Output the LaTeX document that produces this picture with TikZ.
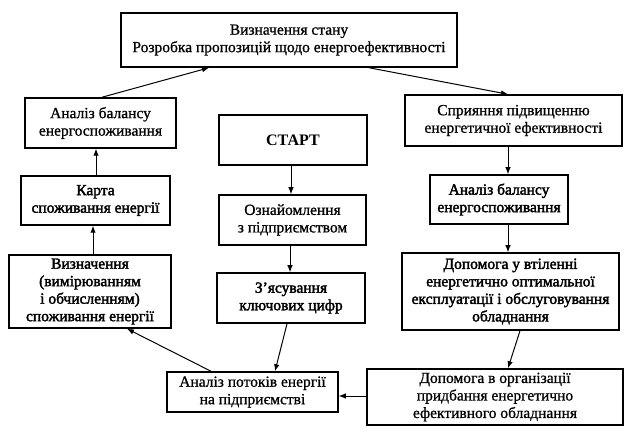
\documentclass[tikz,border=0pt]{standalone}
\usepackage{fontspec}
\setmainfont{Liberation Serif}
\newfontfamily\heavyserif[FakeBold=2.2]{Liberation Serif}
\newfontfamily\midserif[FakeBold=0.9]{Liberation Serif}
\usetikzlibrary{arrows.meta}
\begin{document}
\begin{tikzpicture}[x=1pt,y=-1pt,
  box/.style={draw,line width=1.5pt,align=center,inner sep=1pt,font=\midserif\fontsize{15.5}{17.5}\selectfont},
  bbox/.style={box,font=\heavyserif\fontsize{15.5}{17.5}\selectfont},
  arr/.style={line width=1pt,-{Latex[length=7pt,width=5.5pt]}}]
\useasboundingbox (0,0) rectangle (639,435);
\node[box,minimum width=336pt,minimum height=54pt] (top) at (289,40) {Визначення стану\\Розробка пропозицій щодо енергоефективності};
\node[box,minimum width=151pt,minimum height=50pt] (an1) at (100.5,123) {Аналіз балансу\\енергоспоживання};
\node[box,line width=2.8pt,minimum width=148pt,minimum height=50pt,font=\fontsize{16}{19}\selectfont\bfseries] (start) at (293,140) {СТАРТ};
\node[box,minimum width=217pt,minimum height=51pt] (spr) at (513.5,120.5) {Сприяння підвищенню\\енергетичної ефективності};
\node[bbox,minimum width=149pt,minimum height=49pt] (karta) at (95.5,200.5) {Карта\\споживання енергії};
\node[box,minimum width=147pt,minimum height=50pt] (ozn) at (292.5,220) {Ознайомлення\\з підприємством};
\node[bbox,minimum width=138pt,minimum height=49pt] (an2) at (499,199.5) {Аналіз балансу\\енергоспоживання};
\node[bbox,minimum width=162pt,minimum height=73pt] (vyzn) at (90,291.5) {Визначення\\(вимірюванням\\і обчисленням)\\споживання енергії};
\node[bbox,minimum width=148pt,minimum height=50pt] (zyas) at (291,298) {З’ясування\\ключових цифр};
\node[bbox,minimum width=217pt,minimum height=77pt] (dop1) at (510.5,291.5) {Допомога у втіленні\\енергетично оптимальної\\експлуатації і обслуговування\\обладнання};
\node[box,minimum width=171pt,minimum height=40pt] (potok) at (252.5,392) {Аналіз потоків енергії\\на підприємстві};
\node[box,minimum width=256pt,minimum height=56pt] (dop2) at (495,397) {Допомога в організації\\придбання енергетично\\ефективного обладнання};
\draw[arr] ([xshift=1.5pt]an1.north) -- ([xshift=-80pt]top.south);
\draw[arr] ([xshift=80pt]top.south) -- ([xshift=-5.5pt]spr.north);
\draw[arr] ([xshift=0.5pt]karta.north) -- ([xshift=0.5pt]karta.north |- an1.south);
\draw[arr] ([xshift=3pt]vyzn.north) -- ([xshift=3pt]vyzn.north |- karta.south);
\draw[arr] ([xshift=-2pt]start.south) -- ([xshift=-2pt]start.south |- ozn.north);
\draw[arr] ([xshift=-2.5pt]ozn.south) -- ([xshift=-2.5pt]ozn.south |- zyas.north);
\draw[arr] ([xshift=-4pt]zyas.south) -- ([xshift=22.5pt]potok.north);
\draw[arr] ([xshift=-41.5pt]potok.north) -- ([xshift=37pt]vyzn.south);
\draw[arr] ([xshift=-5.5pt]spr.south) -- ([xshift=-5.5pt]spr.south |- an2.north);
\draw[arr] ([xshift=9pt]an2.south) -- ([xshift=9pt]an2.south |- dop1.north);
\draw[arr] ([xshift=9.5pt]dop1.south) -- ([xshift=13pt]dop2.north);
\draw[arr] ([yshift=1pt]dop2.west) -- ([yshift=1pt]dop2.west -| potok.east);
\end{tikzpicture}
\end{document}
